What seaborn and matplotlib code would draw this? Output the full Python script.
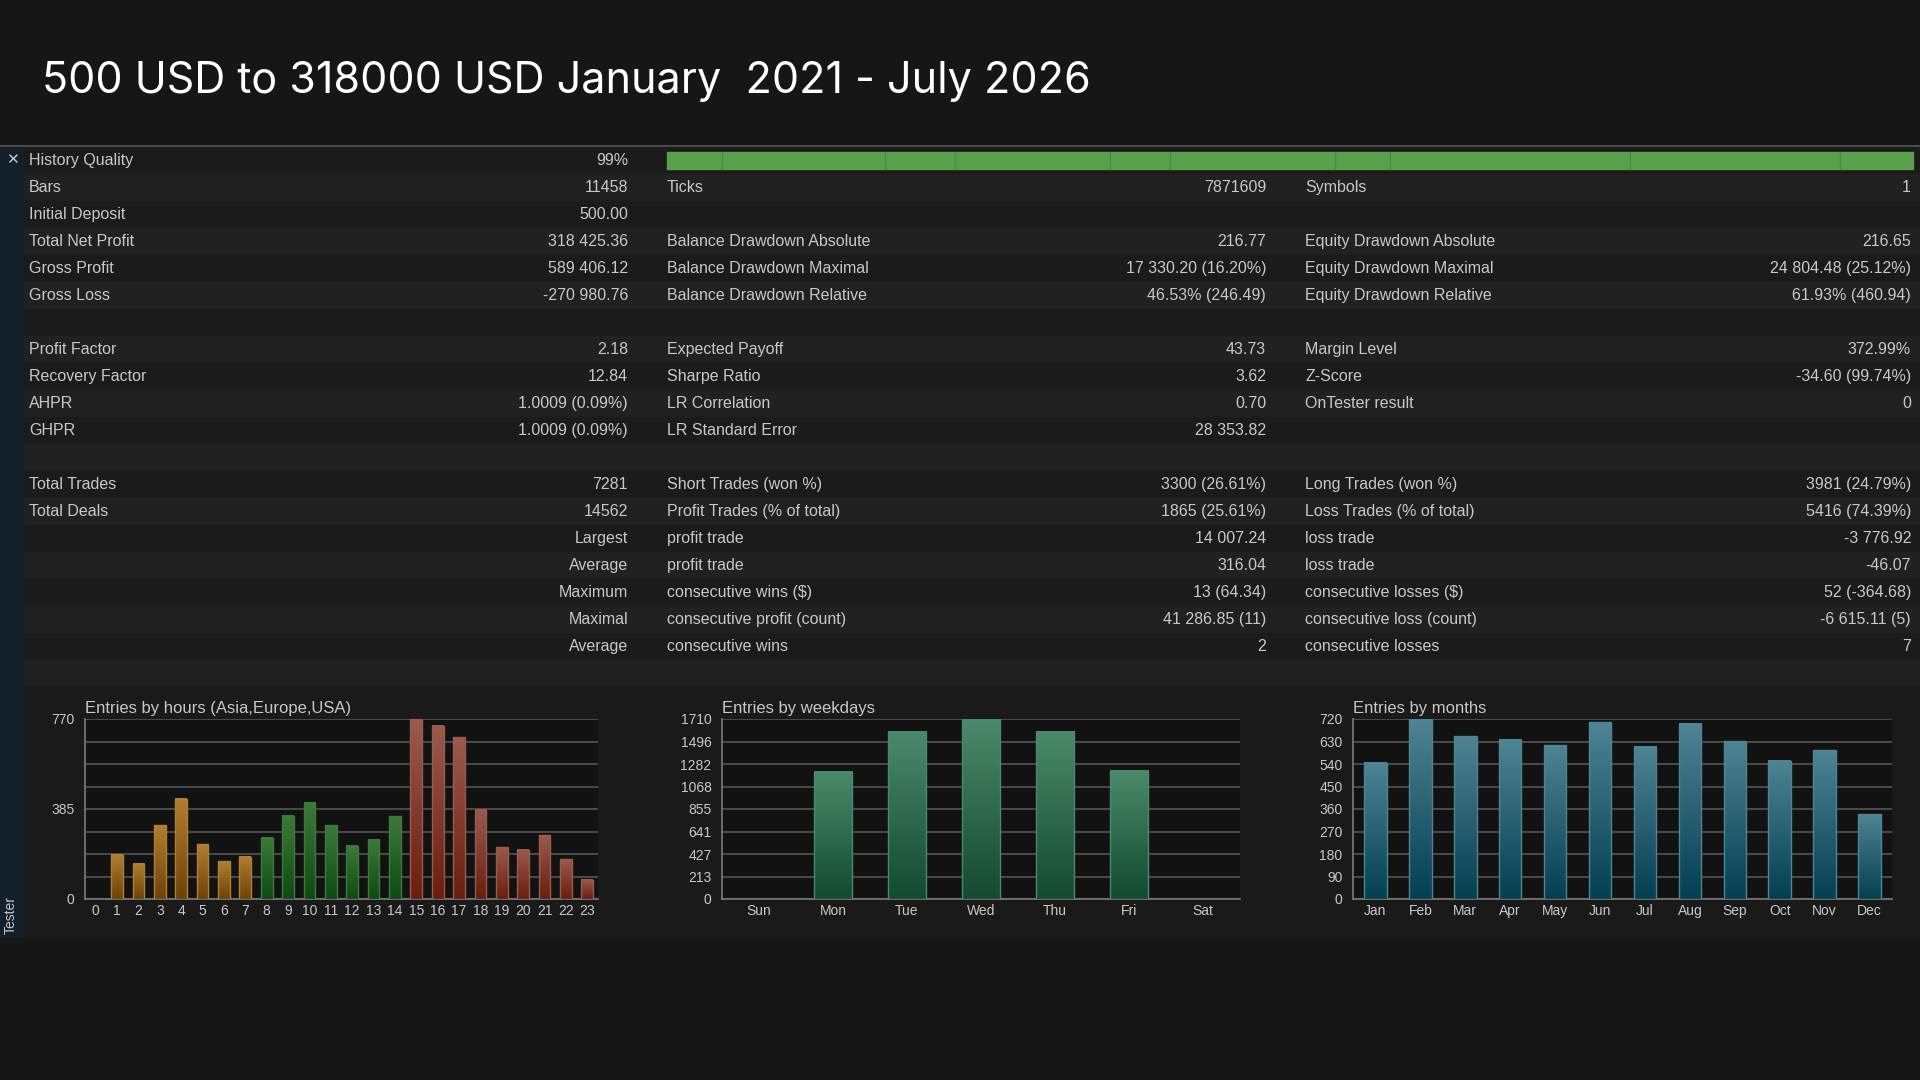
import numpy as np
import pandas as pd
import seaborn as sns
import matplotlib.pyplot as plt
from matplotlib.patches import Rectangle

title = "500 USD to 318000 USD January  2021 - July 2026"

# table rows: (label1, value1, label2, value2, label3, value3)
rows = [
    ("History Quality", "99%", "", "", "", ""),
    ("Bars", "11458", "Ticks", "7871609", "Symbols", "1"),
    ("Initial Deposit", "500.00", "", "", "", ""),
    ("Total Net Profit", "318 425.36", "Balance Drawdown Absolute", "216.77", "Equity Drawdown Absolute", "216.65"),
    ("Gross Profit", "589 406.12", "Balance Drawdown Maximal", "17 330.20 (16.20%)", "Equity Drawdown Maximal", "24 804.48 (25.12%)"),
    ("Gross Loss", "-270 980.76", "Balance Drawdown Relative", "46.53% (246.49)", "Equity Drawdown Relative", "61.93% (460.94)"),
    ("", "", "", "", "", ""),
    ("Profit Factor", "2.18", "Expected Payoff", "43.73", "Margin Level", "372.99%"),
    ("Recovery Factor", "12.84", "Sharpe Ratio", "3.62", "Z-Score", "-34.60 (99.74%)"),
    ("AHPR", "1.0009 (0.09%)", "LR Correlation", "0.70", "OnTester result", "0"),
    ("GHPR", "1.0009 (0.09%)", "LR Standard Error", "28 353.82", "", ""),
    ("", "", "", "", "", ""),
    ("Total Trades", "7281", "Short Trades (won %)", "3300 (26.61%)", "Long Trades (won %)", "3981 (24.79%)"),
    ("Total Deals", "14562", "Profit Trades (% of total)", "1865 (25.61%)", "Loss Trades (% of total)", "5416 (74.39%)"),
    ("", "Largest", "profit trade", "14 007.24", "loss trade", "-3 776.92"),
    ("", "Average", "profit trade", "316.04", "loss trade", "-46.07"),
    ("", "Maximum", "consecutive wins ($)", "13 (64.34)", "consecutive losses ($)", "52 (-364.68)"),
    ("", "Maximal", "consecutive profit (count)", "41 286.85 (11)", "consecutive loss (count)", "-6 615.11 (5)"),
    ("", "Average", "consecutive wins", "2", "consecutive losses", "7"),
]

hours = [str(h) for h in range(24)]
hour_counts = [0, 190, 151, 315, 429, 235, 161, 180, 262, 356, 411, 315, 227, 254, 354,
               770, 741, 693, 382, 222, 211, 272, 170, 83]
hour_session = ["Asia"] * 8 + ["Europe"] * 7 + ["USA"] * 9

weekdays = ["Sun", "Mon", "Tue", "Wed", "Thu", "Fri", "Sat"]
weekday_counts = [0, 1210, 1590, 1710, 1590, 1220, 0]

months = ["Jan", "Feb", "Mar", "Apr", "May", "Jun", "Jul", "Aug", "Sep", "Oct", "Nov", "Dec"]
month_counts = [545, 720, 651, 638, 615, 707, 610, 701, 632, 553, 595, 340]

W, H = 1920, 1080
BG = "#161616"
TXT = "#c8c8c8"

sns.set_theme(style="dark")
plt.rcParams["font.family"] = ["Liberation Sans", "DejaVu Sans"]

fig = plt.figure(figsize=(19.2, 10.8), dpi=100, facecolor=BG)
bg = fig.add_axes([0, 0, 1, 1])
bg.set_xlim(0, W)
bg.set_ylim(H, 0)
bg.axis("off")

bg.text(42, 81, title, color="white", fontsize=31, family=["Inter", "DejaVu Sans"], va="center")
bg.plot([0, W], [146, 146], color="#4a4a4a", lw=1.5)

# left strip
bg.add_patch(Rectangle((0, 147), 24, 790, color="#12202c"))
bg.text(12, 160, "✕", color=TXT, fontsize=11, ha="center", va="center")
bg.text(11, 915, "Tester", color=TXT, fontsize=10, rotation=90, ha="center", va="center")

row_h = 27
y0 = 147
FS = 11.5
for i, r in enumerate(rows + [("", "", "", "", "", "")]):
    y = y0 + i * row_h
    bg.add_patch(Rectangle((24, y), W - 24, row_h, color="#1b1b1b" if i % 2 == 0 else "#212121"))
    cy = y + row_h / 2
    l1, v1, l2, v2, l3, v3 = r
    bg.text(29, cy, l1, color=TXT, fontsize=FS, va="center")
    bg.text(628, cy, v1, color=TXT, fontsize=FS, va="center", ha="right")
    bg.text(667, cy, l2, color=TXT, fontsize=FS, va="center")
    bg.text(1266, cy, v2, color=TXT, fontsize=FS, va="center", ha="right")
    bg.text(1305, cy, l3, color=TXT, fontsize=FS, va="center")
    bg.text(1911, cy, v3, color=TXT, fontsize=FS, va="center", ha="right")

# history quality bar
bg.add_patch(Rectangle((667, 152), 1246, 17, color="#5aa04a"))
for x in [722, 885, 955, 1110, 1170, 1335, 1390, 1630, 1840]:
    bg.plot([x, x], [152, 169], color="#4d8a40", lw=1)

# chart panel
bg.add_patch(Rectangle((24, 686), W - 24, 251, color="#1a1a1a"))


def grad_bars(ax, top, bottom, keys):
    cmap_cls = plt.matplotlib.colors.LinearSegmentedColormap
    for p, k in zip(list(ax.patches), keys):
        x, w, h = p.get_x(), p.get_width(), p.get_height()
        p.set_visible(False)
        if h <= 0:
            continue
        grad = np.linspace(0, 1, 100).reshape(-1, 1)
        cmap = cmap_cls.from_list("g", [bottom[k], top[k]])
        ax.imshow(grad, extent=[x, x + w, 0, h], origin="lower", aspect="auto", cmap=cmap, zorder=3)
        ax.add_patch(Rectangle((x, 0), w, h, fill=False, ec=top[k], lw=1, zorder=4))


def style_axes(ax, ticks, ymax, title, n):
    ax.set_facecolor("#121212")
    ax.set_ylim(0, ymax)
    ax.set_xlim(-0.5, n - 0.5)
    ax.set_yticks(ticks)
    ax.grid(axis="y", color="#555555", lw=1.2)
    ax.grid(axis="x", visible=False)
    ax.tick_params(colors=TXT, labelsize=10, length=0)
    ax.set_xticks(np.arange(-0.5, n, 1), minor=True)
    ax.tick_params(axis="x", which="minor", length=5, color="#777777", direction="out")
    ax.tick_params(axis="y", which="major", length=4, color="#777777")
    ax.set_xlabel("")
    ax.set_ylabel("")
    for s in ax.spines.values():
        s.set_visible(False)
    for s in ("left", "bottom"):
        ax.spines[s].set_visible(True)
        ax.spines[s].set_color("#777777")
    ax.set_title(title, loc="left", color=TXT, fontsize=12, pad=4)
    ax.set_axisbelow(True)


def axes_px(l, r, t, b):
    return fig.add_axes([l / W, 1 - b / H, (r - l) / W, (b - t) / H])


# hours
ax1 = axes_px(85, 598, 719, 899)
df_h = pd.DataFrame({"hour": hours, "count": hour_counts})
sns.barplot(data=df_h, x="hour", y="count", color="#a06a1e", width=0.55, ax=ax1)
grad_bars(ax1, {"Asia": "#b07f32", "Europe": "#3c7a3a", "USA": "#9a5a4e"},
          {"Asia": "#6e4208", "Europe": "#0f4a12", "USA": "#6a1e0e"}, hour_session)
style_axes(ax1, [0, 385, 770], 770, "Entries by hours (Asia,Europe,USA)", 24)
ax1.set_yticks(np.arange(0, 771, 96.25), minor=True)
ax1.tick_params(axis="y", which="minor", length=0)
ax1.grid(axis="y", which="minor", color="#555555", lw=1.2)

# weekdays
ax2 = axes_px(722, 1240, 719, 899)
df_w = pd.DataFrame({"day": weekdays, "count": weekday_counts})
sns.barplot(data=df_w, x="day", y="count", color="#3a7a5a", width=0.52, ax=ax2)
grad_bars(ax2, {"x": "#4a8a6a"}, {"x": "#134a30"}, ["x"] * 7)
style_axes(ax2, [0, 213, 427, 641, 855, 1068, 1282, 1496, 1710], 1710, "Entries by weekdays", 7)

# months
ax3 = axes_px(1353, 1892, 719, 899)
df_m = pd.DataFrame({"month": months, "count": month_counts})
sns.barplot(data=df_m, x="month", y="count", color="#2f6f80", width=0.5, ax=ax3)
grad_bars(ax3, {"x": "#4e8494"}, {"x": "#043f52"}, ["x"] * 12)
style_axes(ax3, list(range(0, 721, 90)), 720, "Entries by months", 12)

fig.savefig("out.png", dpi=100, facecolor=BG)
